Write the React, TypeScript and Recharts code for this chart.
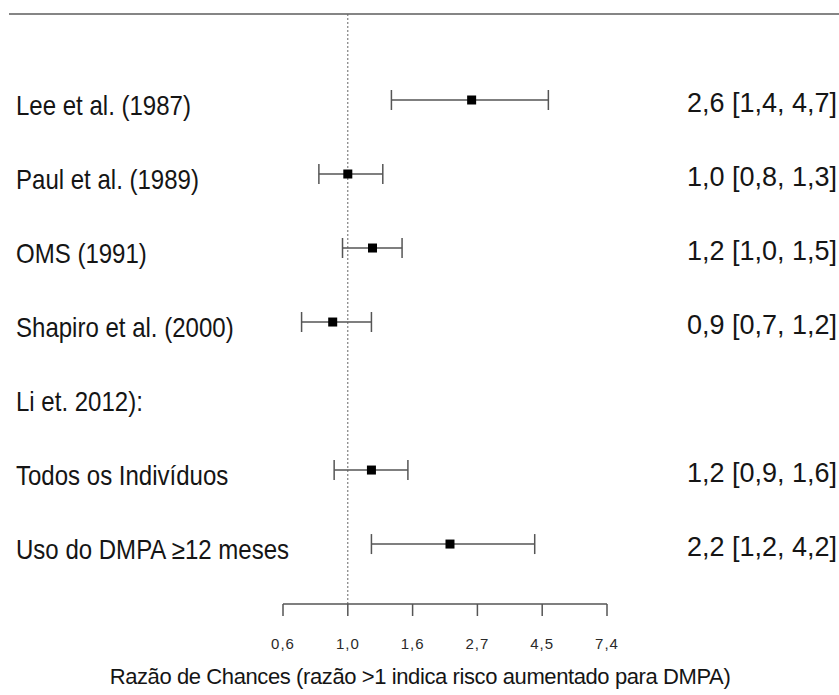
import {
  ScatterChart,
  Scatter,
  XAxis,
  YAxis,
  ErrorBar,
  ReferenceLine,
} from "recharts";

// linhas do forest plot (de cima para baixo)
const studyNames = [
  "Lee et al. (1987)",
  "Paul et al. (1989)",
  "OMS (1991)",
  "Shapiro et al. (2000)",
  "Li et. 2012):",
  "Todos os Indivíduos",
  "Uso do DMPA ≥12 meses",
];
const estimateLabels = [
  "2,6 [1,4, 4,7]",
  "1,0 [0,8, 1,3]",
  "1,2 [1,0, 1,5]",
  "0,9 [0,7, 1,2]",
  "",
  "1,2 [0,9, 1,6]",
  "2,2 [1,2, 4,2]",
];
const oddsRatio = [2.6, 1.0, 1.21, 0.89, null, 1.2, 2.2];
const lowerCI = [1.4, 0.8, 0.96, 0.7, null, 0.9, 1.2];
const upperCI = [4.7, 1.31, 1.52, 1.2, null, 1.59, 4.23];

const xTicks = [0.6065, 1, 1.6487, 2.7183, 4.4817, 7.3891];
const xTickLabels = ["0,6", "1,0", "1,6", "2,7", "4,5", "7,4"];

const axisTitle = "Razão de Chances (razão >1 indica risco aumentado para DMPA)";

const points = oddsRatio
  .map((or, i) =>
    or === null
      ? null
      : { row: i, or, err: [or - (lowerCI[i] as number), (upperCI[i] as number) - or] }
  )
  .filter((p) => p !== null);

const FONT = "'Liberation Sans', Arial, sans-serif";

const RowTick = (props: any) => {
  const { y, payload } = props;
  const i = payload.value;
  return (
    <g>
      <text
        transform={`translate(16, ${y + 5}) scale(0.89, 1)`}
        fontSize={27}
        fontFamily={FONT}
        fill="#151515"
        dominantBaseline="central"
      >
        {studyNames[i]}
      </text>
      <text
        x={837}
        y={y + 3}
        fontSize={27}
        fontFamily={FONT}
        fill="#151515"
        textAnchor="end"
        dominantBaseline="central"
      >
        {estimateLabels[i]}
      </text>
    </g>
  );
};

const XTick = (props: any) => {
  const { x, y, index } = props;
  return (
    <text
      x={x}
      y={y + 25}
      fontSize={15}
      fontFamily={FONT}
      fill="#2a2a2a"
      letterSpacing={1}
      textAnchor="middle"
      dominantBaseline="central"
    >
      {xTickLabels[index]}
    </text>
  );
};

const AxisTitle = (props: any) => {
  const { viewBox } = props;
  return (
    <text
      x={420}
      y={viewBox.y + 72}
      fontSize={22}
      fontFamily={FONT}
      fill="#151515"
      letterSpacing={-0.4}
      textAnchor="middle"
      dominantBaseline="central"
    >
      {axisTitle}
    </text>
  );
};

const Marker = (props: any) => {
  const { cx, cy } = props;
  return <rect x={cx - 4.5} y={cy - 4.5} width={9} height={9} fill="#000" />;
};

export default function App() {
  return (
    <div style={{ position: "absolute", left: 0, top: 0, width: 839, height: 695, background: "#fff" }}>
      <div
        style={{
          position: "absolute",
          left: 9,
          top: 13,
          width: 830,
          borderTop: "2px solid #858585",
        }}
      />
      <ScatterChart
        width={839}
        height={695}
        margin={{ top: 14, right: 232, bottom: 0, left: 223 }}
      >
        <XAxis
          type="number"
          dataKey="or"
          scale="log"
          domain={[0.6065, 7.3891]}
          allowDataOverflow
          ticks={xTicks}
          interval={0}
          height={91}
          stroke="#555"
          strokeWidth={1.5}
          tickSize={12}
          tick={<XTick />}
          label={<AxisTitle />}
        />
        <YAxis
          type="number"
          dataKey="row"
          domain={[-1.162, 6.81]}
          allowDataOverflow
          reversed
          ticks={[0, 1, 2, 3, 4, 5, 6]}
          interval={0}
          width={60}
          axisLine={false}
          tickLine={false}
          tick={<RowTick />}
        />
        <ReferenceLine x={1} stroke="#666" strokeDasharray="2 2" />
        <Scatter data={points} shape={<Marker />} isAnimationActive={false}>
          <ErrorBar
            dataKey="err"
            direction="x"
            width={10}
            stroke="#555"
            strokeWidth={1.5}
            isAnimationActive={false}
          />
        </Scatter>
      </ScatterChart>
    </div>
  );
}
